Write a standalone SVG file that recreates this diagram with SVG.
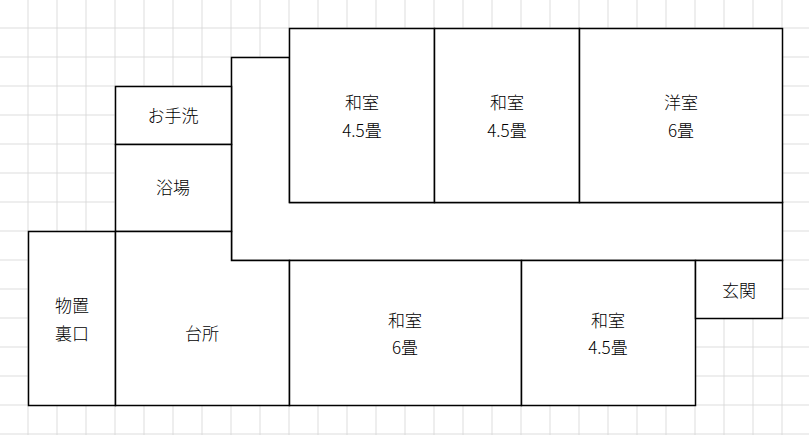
<svg xmlns="http://www.w3.org/2000/svg" width="809" height="435" viewBox="0 0 809 435">
<defs><pattern id="g" x="-0.5" y="-0.5" width="29" height="29" patternUnits="userSpaceOnUse"><path d="M29 0V29M0 29H29" fill="none" stroke="#d3d3d3" stroke-width="1.5"/></pattern></defs>
<style>.r{fill:#fff;stroke:#000;stroke-width:1.5}text{font-family:"Noto Sans CJK JP",sans-serif;font-size:17px;font-weight:300;text-anchor:middle;fill:#000}</style>
<rect width="809" height="435" fill="#fff"/>
<rect width="809" height="435" fill="url(#g)"/>
<g id="corridor"><path class="r" d="M231.5 57.5H289.5V202.5H782.5V260.5H231.5Z"/></g>
<g id="toilet"><rect class="r" x="115.5" y="86.5" width="116" height="58"/><text x="173" y="122">お手洗</text></g>
<g id="bath"><rect class="r" x="115.5" y="144.5" width="116" height="87"/><text x="173" y="194">浴場</text></g>
<g id="w1"><rect class="r" x="289.5" y="28.5" width="145" height="174"/><text x="362" y="109">和室</text><text x="362" y="137">4.5畳</text></g>
<g id="w2"><rect class="r" x="434.5" y="28.5" width="145" height="174"/><text x="507" y="109">和室</text><text x="507" y="137">4.5畳</text></g>
<g id="y1"><rect class="r" x="579.5" y="28.5" width="203" height="174"/><text x="681" y="109">洋室</text><text x="681" y="137">6畳</text></g>
<g id="store"><rect class="r" x="28.5" y="231.5" width="87" height="174"/><text x="72" y="312">物置</text><text x="72" y="340">裏口</text></g>
<g id="kitchen"><path class="r" d="M115.5 231.5H231.5V260.5H289.5V405.5H115.5Z"/><text x="202" y="340">台所</text></g>
<g id="w3"><rect class="r" x="289.5" y="260.5" width="232" height="145"/><text x="405" y="327">和室</text><text x="405" y="354">6畳</text></g>
<g id="w4"><rect class="r" x="521.5" y="260.5" width="174" height="145"/><text x="608" y="327">和室</text><text x="608" y="354">4.5畳</text></g>
<g id="entry"><rect class="r" x="695.5" y="260.5" width="87" height="58"/><text x="739" y="297">玄関</text></g>
<g id="connectors"/>
</svg>
